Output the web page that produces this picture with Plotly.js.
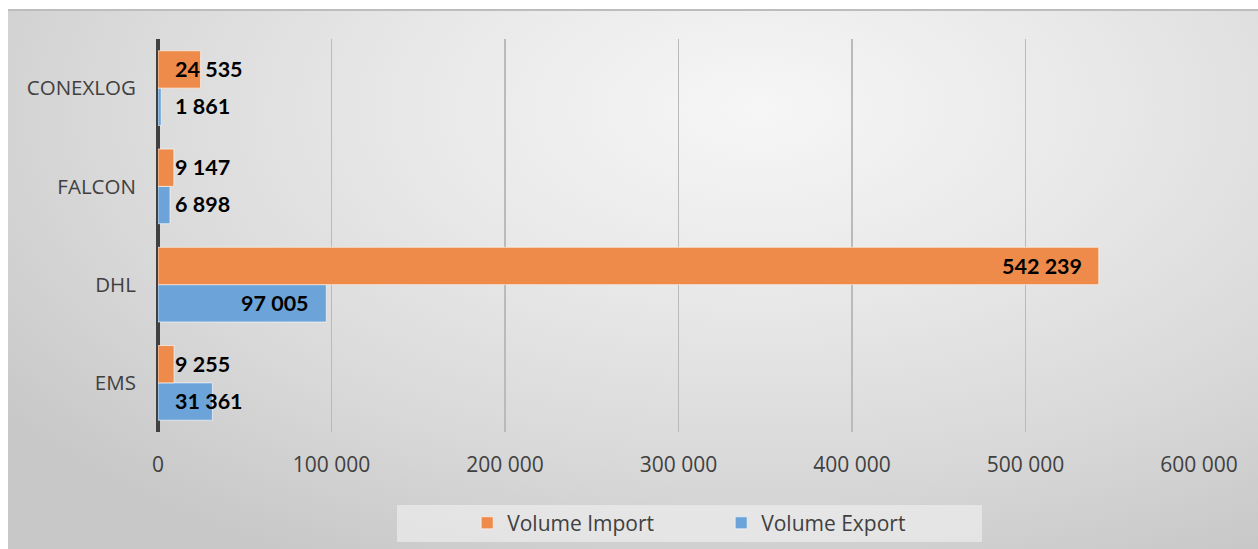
<!DOCTYPE html>
<html>
<head>
<meta charset="utf-8">
<script src="https://cdn.plot.ly/plotly-3.0.1.min.js"></script>
<style>
  html, body { margin: 0; padding: 0; background: #ffffff; }
  #wrap { position: absolute; left: 0; top: 0; width: 1258px; height: 549px; background: #ffffff; }
  #card { position: absolute; left: 8px; top: 9px; width: 1250px; height: 540px;
    border-top: 2px solid #bdbdbd;
    background: radial-gradient(ellipse 75% 95% at 60% 18%, #f6f6f6 0%, #e9e9e9 35%, #d9d9d9 70%, #c8c8c8 100%); }
  #chart { position: absolute; left: 0; top: 0; width: 1258px; height: 549px; }
</style>
</head>
<body>
<div id="wrap"><div id="card"></div><div id="chart"></div></div>
<script>
// Categories, bottom to top as drawn
var categories = ['EMS', 'DHL', 'FALCON', 'CONEXLOG'];
var volumeImport = [9255, 542239, 9147, 24535];
var volumeExport = [31361, 97005, 6898, 1861];
var importLabels = ['9 255', '542 239', '9 147', '24 535'];
var exportLabels = ['31 361', '97 005', '6 898', '1 861'];
var tickValues = [0, 100000, 200000, 300000, 400000, 500000, 600000];
var tickLabels = ['0', '100 000', '200 000', '300 000', '400 000', '500 000', '600 000'];

var orange = '#EE8B4B';
var blue = '#6CA4D9';

var traces = [
  {
    type: 'bar', orientation: 'h', name: 'Volume Export',
    y: categories, x: volumeExport, legendrank: 2,
    marker: { color: blue, line: { color: 'rgba(255,255,255,0.6)', width: 1 } },
    hoverinfo: 'none'
  },
  {
    type: 'bar', orientation: 'h', name: 'Volume Import',
    y: categories, x: volumeImport, legendrank: 1,
    marker: { color: orange, line: { color: 'rgba(255,255,255,0.6)', width: 1 } },
    hoverinfo: 'none'
  }
];

// Data labels: inside end for long bars, near the base for short bars
var barShift = 18.5;
var annotations = [];
function addLabels(values, labels, dy) {
  for (var i = 0; i < values.length; i++) {
    var big = values[i] > 60000;
    annotations.push({
      x: big ? values[i] : 0, y: categories[i], xref: 'x', yref: 'y',
      text: labels[i], showarrow: false,
      xanchor: big ? 'right' : 'left', yanchor: 'middle',
      xshift: big ? -15 : 15, yshift: dy + 0.5,
      font: { family: 'Lato, sans-serif', size: 21.5, color: '#000000', weight: 'bold' }
    });
  }
}
addLabels(volumeImport, importLabels, barShift);
addLabels(volumeExport, exportLabels, -barShift);

var layout = {
  width: 1258, height: 549,
  paper_bgcolor: 'rgba(0,0,0,0)', plot_bgcolor: 'rgba(0,0,0,0)',
  margin: { l: 158, r: 59, t: 39, b: 117, autoexpand: false },
  barmode: 'group', bargap: 0.24, bargroupgap: 0,
  font: { family: '"Open Sans", sans-serif', color: '#404040' },
  xaxis: {
    range: [0, 600000], tickvals: tickValues, ticktext: tickLabels,
    showgrid: true, gridcolor: '#bababa', gridwidth: 1.2,
    zeroline: true, zerolinecolor: '#404040', zerolinewidth: 3.5,
    showline: false, ticks: 'outside', ticklen: 14, tickcolor: 'rgba(0,0,0,0)',
    tickfont: { size: 21, color: '#404040' }, fixedrange: true, automargin: false
  },
  yaxis: {
    type: 'category', categoryorder: 'array', categoryarray: categories,
    range: [-0.5, 3.5],
    showgrid: false, zeroline: false, showline: false,
    ticks: 'outside', ticklen: 17, tickcolor: 'rgba(0,0,0,0)',
    tickfont: { size: 20.5, color: '#404040' }, fixedrange: true, automargin: false
  },
  showlegend: true,
  legend: {
    orientation: 'h', x: 0.5410, xanchor: 'center', y: -0.232, yanchor: 'middle',
    bgcolor: 'rgba(0,0,0,0)', borderwidth: 0,
    font: { size: 21, color: '#404040' },
    entrywidth: 209, entrywidthmode: 'pixels', itemwidth: 30
  },
  shapes: [{
    type: 'rect', xref: 'paper', yref: 'paper',
    x0: (397 - 158) / 1041, x1: (982 - 158) / 1041,
    y0: -(505 - 432) / 393, y1: -(542 - 432) / 393,
    fillcolor: 'rgba(242,242,242,0.6)', line: { width: 0 }, layer: 'below'
  }],
  annotations: annotations
};

Plotly.newPlot('chart', traces, layout, { displayModeBar: false, staticPlot: true });
</script>
</body>
</html>
